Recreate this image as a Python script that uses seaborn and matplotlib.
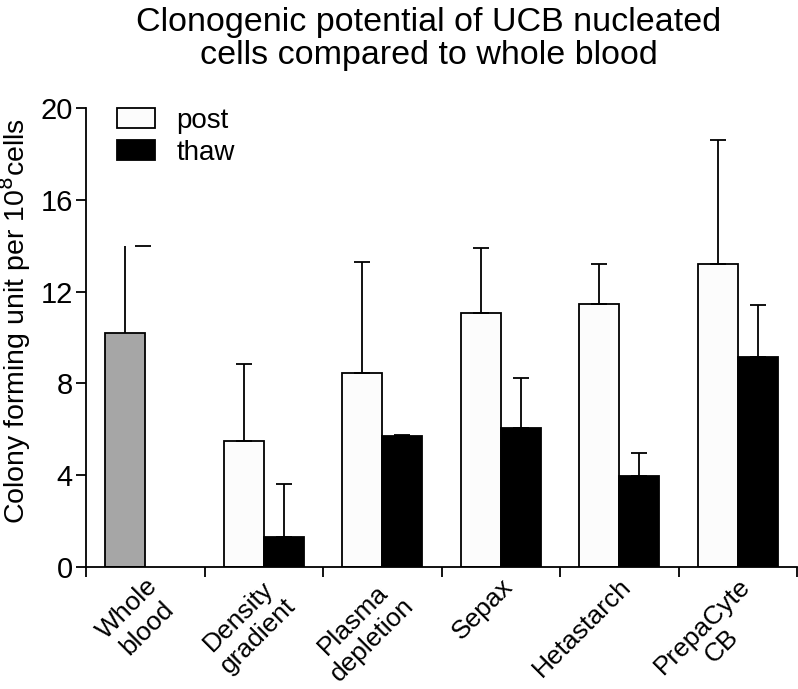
import numpy as np
import pandas as pd
import seaborn as sns
import matplotlib.pyplot as plt

# values
methods = ['Whole\nblood', 'Density\ngradient', 'Plasma\ndepletion', 'Sepax', 'Hetastarch', 'PrepaCyte\nCB']
post_mean = [10.2, 5.5, 8.45, 11.05, 11.45, 13.2]
post_sd = [3.8, 3.35, 4.85, 2.85, 1.75, 5.4]
thaw_mean = [np.nan, 1.3, 5.7, 6.05, 3.95, 9.15]
thaw_sd = [np.nan, 2.3, 0.07, 2.2, 1.0, 2.25]
groups = ['post', 'thaw']

df = pd.DataFrame({
    'method': methods * 2,
    'group': ['post'] * len(methods) + ['thaw'] * len(methods),
    'cfu': post_mean + thaw_mean,
    'sd': post_sd + thaw_sd,
})

sns.set_style('ticks')
plt.rcParams['font.family'] = ['Liberation Sans', 'DejaVu Sans']
plt.rcParams.update({'text.color': 'black', 'axes.labelcolor': 'black',
                     'xtick.color': 'black', 'ytick.color': 'black'})

fig = plt.figure(figsize=(7.98, 6.89), dpi=100)
ax = fig.add_axes([0.1078, 0.1771, 0.891, 0.6662])

sns.barplot(data=df.dropna(), x='method', y='cfu', hue='group', order=methods,
            hue_order=groups, palette={'post': '#fcfcfc', 'thaw': 'black'},
            width=0.675, edgecolor='black', linewidth=1.3, errorbar=None, ax=ax)

# whole blood bar is grey in the original, its cap sits off to the right
for cont, g in zip(ax.containers, groups):
    sub = df[df['group'] == g].set_index('method')
    for bar in cont:
        xc = bar.get_x() + bar.get_width() / 2
        m = methods[int(round(xc))]
        err = sub.loc[m, 'sd']
        top = bar.get_height()
        if m == 'Whole\nblood':
            bar.set_facecolor('#a6a6a6')
            ax.vlines(xc, top, top + err, color='black', lw=1.3, zorder=1)
            ax.hlines(top + err, xc + 0.085, xc + 0.22, color='black', lw=1.3)
        else:
            ax.errorbar(xc, top, yerr=[[0], [err]], fmt='none', ecolor='black',
                        elinewidth=1.3, capsize=6, capthick=1.3, zorder=1)

ax.set_xlim(-0.5, 5.5)
ax.set_ylim(0, 20)
ax.set_yticks([0, 4, 8, 12, 16, 20])
ax.set_xticks(range(len(methods)))
ax.set_xticklabels(methods, rotation=45, ha='right', va='top',
                   rotation_mode='anchor', multialignment='center')
ax.set_xticks(np.arange(-0.5, 6, 1), minor=True)
ax.tick_params(axis='x', which='major', length=0, pad=5, labelsize=19)
ax.tick_params(axis='x', which='minor', length=7, width=1.3, direction='out')
ax.tick_params(axis='y', length=7.5, width=1.3, direction='out', labelsize=21, pad=2)
for s in ['left', 'bottom']:
    ax.spines[s].set_linewidth(1.3)
    ax.spines[s].set_color('black')
sns.despine(ax=ax)

ax.set_xlabel('')
ax.set_ylabel('Colony forming unit per 10$^8$cells', fontsize=20.5)
ax.yaxis.set_label_coords(-0.074, 0.535)

handles, labels = ax.get_legend_handles_labels()
ax.legend(handles, labels, loc='upper left', bbox_to_anchor=(0.044, 1.0),
          frameon=False, fontsize=20, handlelength=1.37, handleheight=0.72,
          labelspacing=0.22, borderpad=0, borderaxespad=0, handletextpad=0.75)

fig.text(0.537, 0.99, 'Clonogenic potential of UCB nucleated\ncells compared to whole blood',
         ha='center', va='top', fontsize=24.5, linespacing=1.1)

fig.savefig('out.png', dpi=100)
